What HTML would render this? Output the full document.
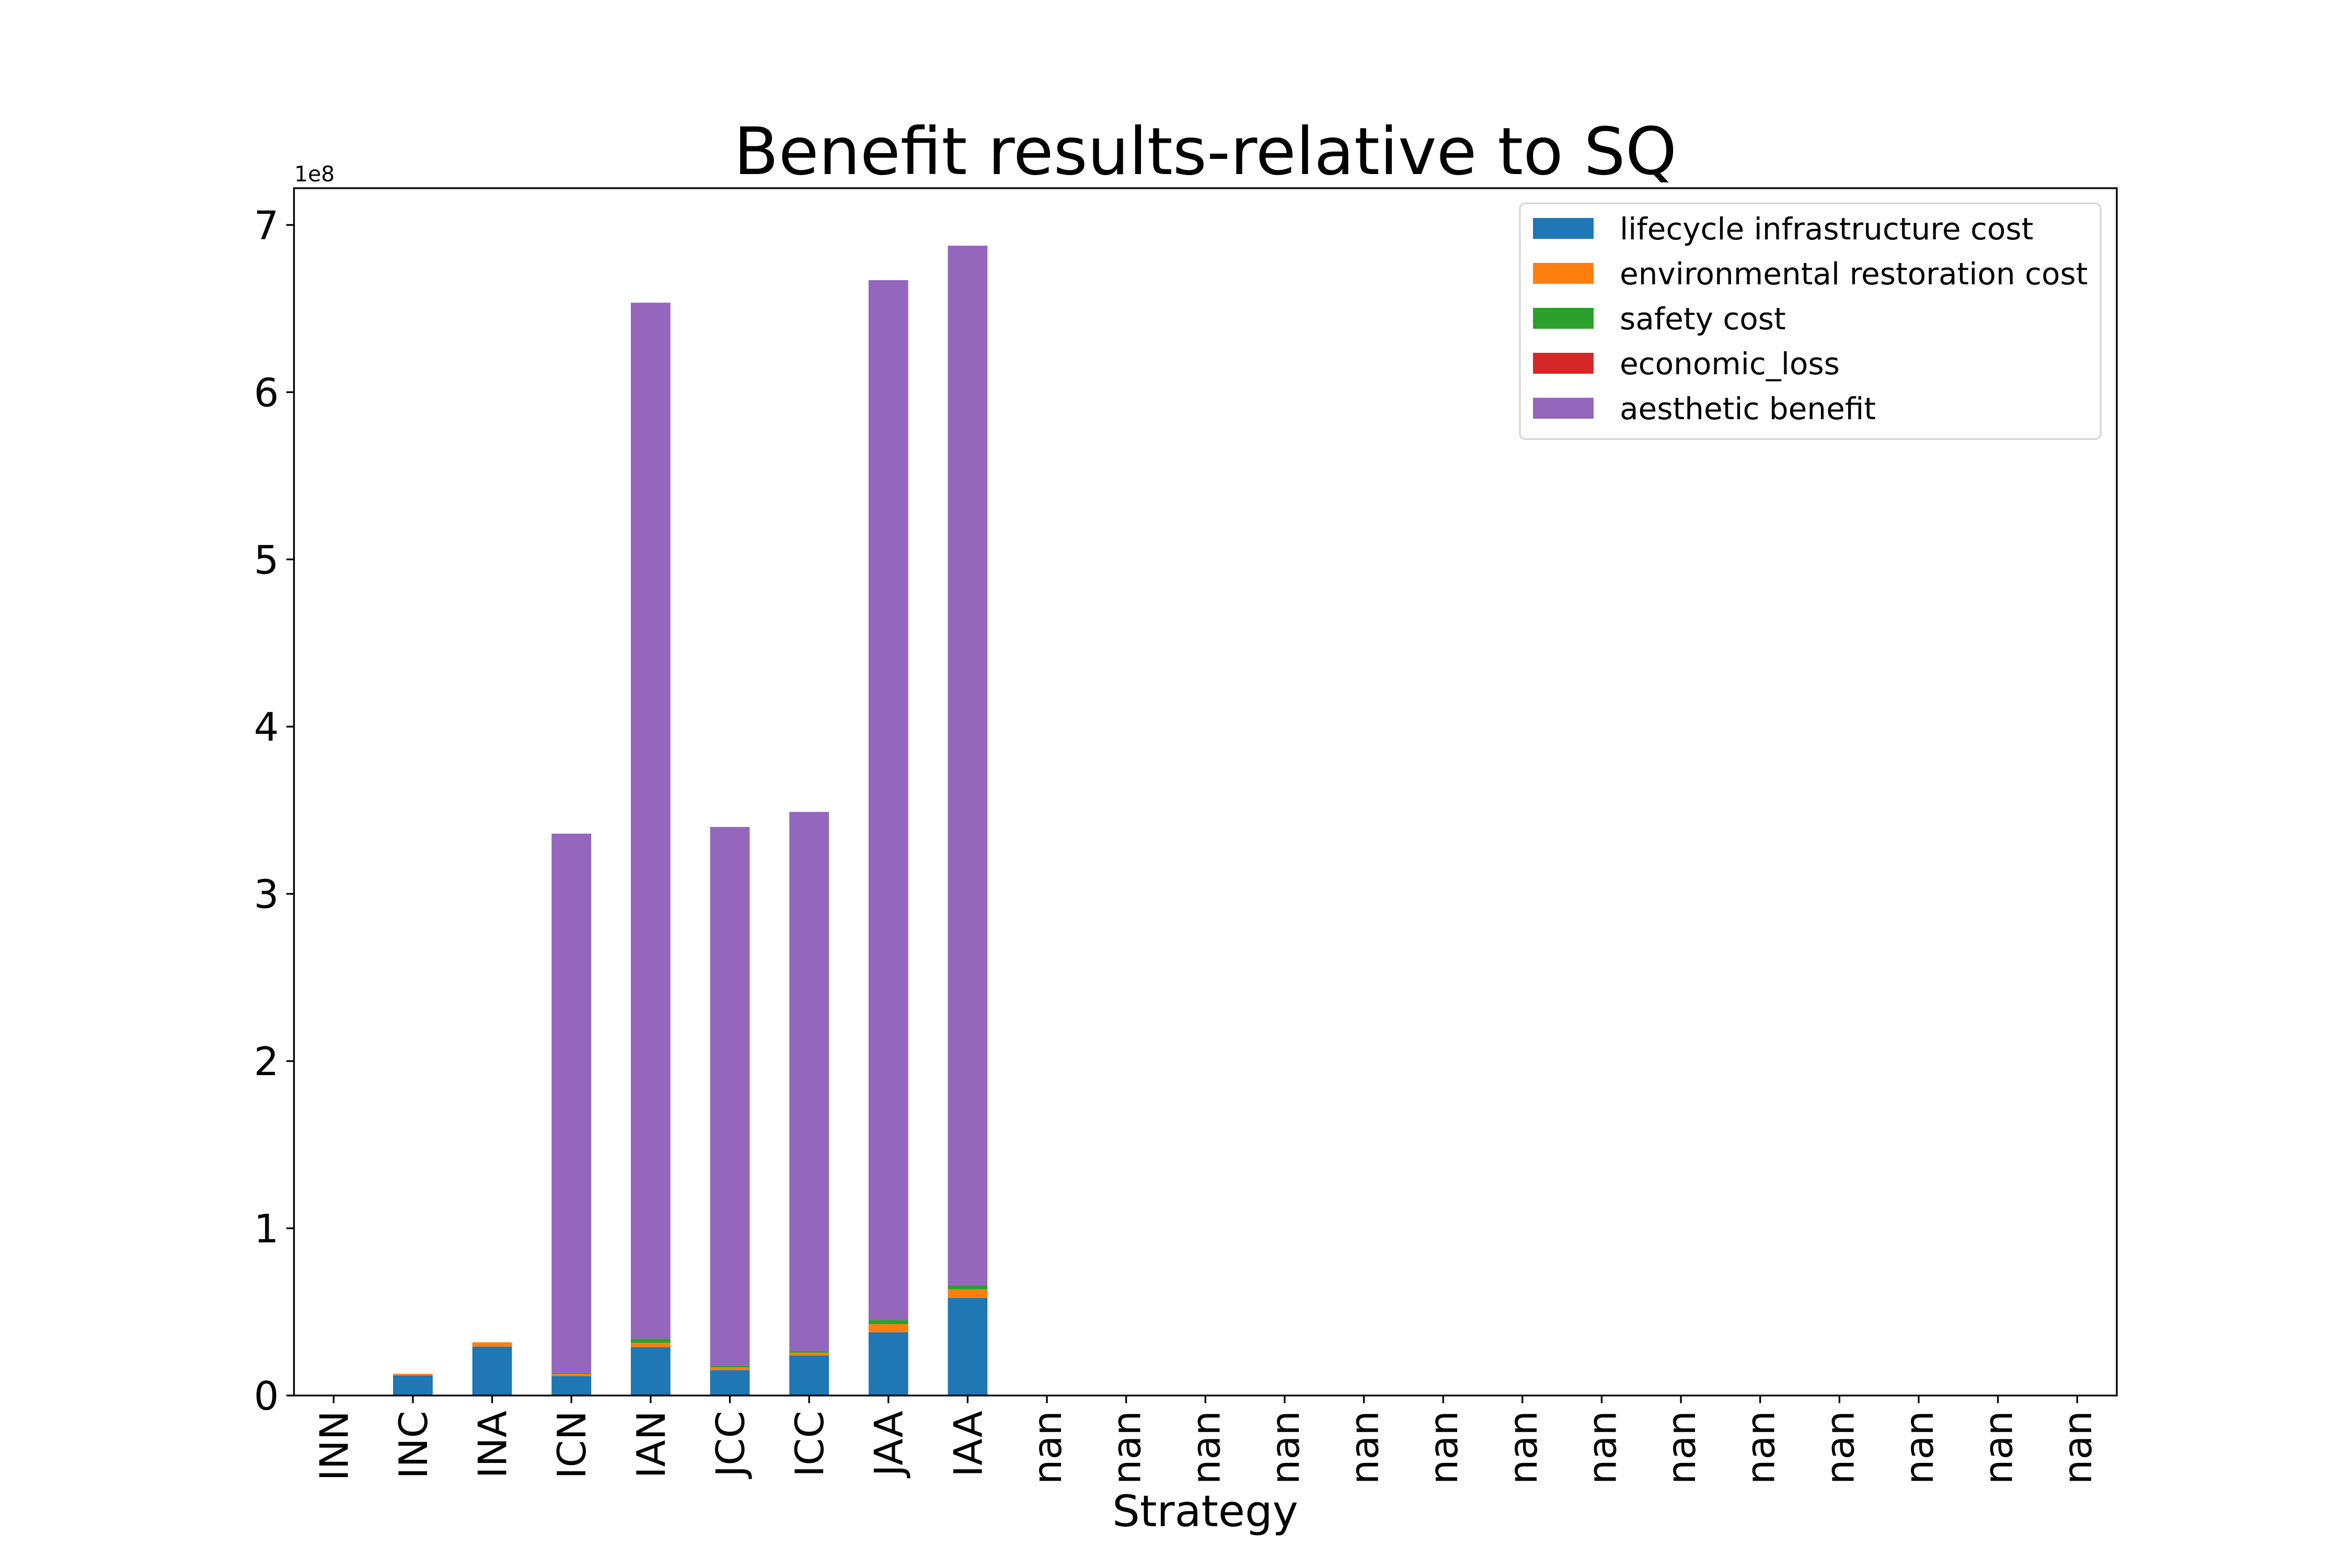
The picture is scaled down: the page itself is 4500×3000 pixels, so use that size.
<!DOCTYPE html>
<html><head><meta charset="utf-8"><style>
html,body{margin:0;padding:0;background:#fff}
svg{display:block;font-family:"DejaVu Sans","Liberation Sans",sans-serif}
</style></head><body>
<svg id="chart" width="4500" height="3000" viewBox="0 0 4500 3000" xmlns="http://www.w3.org/2000/svg">
<rect width="4500" height="3000" fill="#fff"/>
<text x="2306" y="333" font-size="125" text-anchor="middle">Benefit results-relative to SQ</text>
<g id="bars"></g>
<g id="axes"></g>
<text x="563" y="347" font-size="41">1e8</text>
<text x="2306" y="2920" font-size="83" text-anchor="middle">Strategy</text>
<g id="legend"></g>
</svg>
<script>
const categories = ["INN","INC","INA","ICN","IAN","JCC","ICC","JAA","IAA","nan","nan","nan","nan","nan","nan","nan","nan","nan","nan","nan","nan","nan","nan"];
const lifecycle = [0,0.12,0.293,0.118,0.29,0.152,0.24,0.378,0.584];
const environmental = [0,0.01,0.025,0.01,0.025,0.016,0.016,0.049,0.051];
const safety = [0,0,0,0.006,0.025,0.009,0.008,0.025,0.025];
const economic = [0,0,0,0,0,0,0,0,0];
const aesthetic = [0,0,0,3.226,6.195,3.223,3.226,6.218,6.216];
const yTicks = [0,1,2,3,4,5,6,7];
const seriesNames = ["lifecycle infrastructure cost","environmental restoration cost","safety cost","economic_loss","aesthetic benefit"];
const seriesColors = ["#1f77b4","#ff7f0e","#2ca02c","#d62728","#9467bd"];

const NS="http://www.w3.org/2000/svg";
const L=562.5,R=4050,T=360,B=2670,YMAX=7.22;
const n=categories.length;
const step=(R-L)/n;
const xc=i=>L+step*(i+0.5);
const y=v=>B-(v/YMAX)*(B-T);
function mk(tag,attrs,parent){const e=document.createElementNS(NS,tag);for(const k in attrs)e.setAttribute(k,attrs[k]);parent.appendChild(e);return e;}
const bars=document.getElementById('bars'),axes=document.getElementById('axes'),legend=document.getElementById('legend');
const series=[lifecycle,environmental,safety,economic,aesthetic];
for(let i=0;i<n;i++){
  let base=0;
  for(let s=0;s<series.length;s++){
    const v=series[s][i]||0;
    if(v>0){
      const r=mk('rect',{x:xc(i)-step*0.25,y:y(base+v),width:step*0.5,height:y(base)-y(base+v),fill:seriesColors[s]},bars);
      
      
    }
    base+=v;
  }
}
const frame=mk('rect',{x:L,y:T,width:R-L,height:B-T,fill:'none',stroke:'#000','stroke-width':3.3},axes);


yTicks.forEach(t=>{
  const yy=y(t);
  const ln=mk('line',{x1:L-14.6,x2:L,y1:yy,y2:yy,stroke:'#000','stroke-width':3.3},axes);
  
  
  const tx=mk('text',{x:L-29,y:yy+27,'font-size':75,'text-anchor':'end'},axes);
  tx.textContent=t;
  
  
});
categories.forEach((c,i)=>{
  const xx=xc(i);
  const ln=mk('line',{x1:xx,x2:xx,y1:B,y2:B+14.6,stroke:'#000','stroke-width':3.3},axes);
  
  
  const tx=mk('text',{x:0,y:0,'font-size':75,'text-anchor':'end',transform:`translate(${xx+27},${B+29}) rotate(-90)`},axes);
  tx.textContent=c;
  
  
});
const lb=mk('rect',{x:2908,y:389,width:1111,height:451,rx:10,fill:'#fff','fill-opacity':0.8,stroke:'#d6d6d6','stroke-width':3.3},legend);


seriesNames.forEach((nm,k)=>{
  const cy=437+86*k;
  const g=mk('g',{},legend);
  
  
  mk('rect',{x:2933,y:cy-20,width:116,height:40,fill:seriesColors[k]},g);
  const tx=mk('text',{x:3099,y:cy+21,'font-size':58},g);
  tx.textContent=nm;
});
</script>
</body></html>
